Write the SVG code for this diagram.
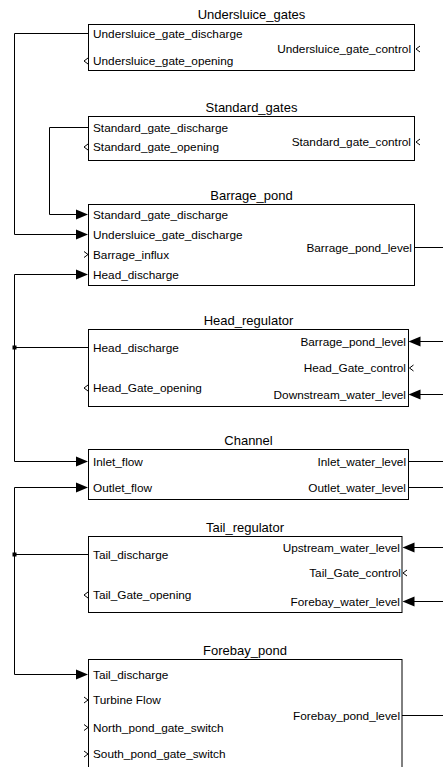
<svg xmlns="http://www.w3.org/2000/svg" width="443" height="767" viewBox="0 0 443 767">
<defs>
<style>
.box{fill:#fff;stroke:#000;stroke-width:1}
.t{font-family:"Liberation Sans",Arial,sans-serif;font-size:13px;text-anchor:middle;fill:#000}
.p{font-family:"Liberation Sans",Arial,sans-serif;font-size:11.8px;fill:#000}
.r{text-anchor:end}
.w{fill:none;stroke:#000;stroke-width:1}
.ch{fill:none;stroke:#000;stroke-width:1}
.ah{fill:#000;stroke:none}
</style>
</defs>
<rect width="443" height="767" fill="#fff"/>

<g id="connectors">
<path class="w" d="M88,33.5 H14.5 V234.5 H76"/>
<path class="w" d="M88,127.5 H49.5 V214.5 H76"/>
<path class="w" d="M76,274.5 H14.5 V461.5 H76"/>
<path class="w" d="M88,347.5 H14.5"/>
<path class="w" d="M76,487.5 H14.5 V674.5 H76"/>
<path class="w" d="M88,554.5 H14.5"/>
<rect x="12.5" y="345.5" width="4" height="4" fill="#000"/>
<rect x="12.5" y="552.5" width="4" height="4" fill="#000"/>
<path class="w" d="M415,247.5 H443"/>
<path class="w" d="M420,341.5 H443"/>
<path class="w" d="M420,394.5 H443"/>
<path class="w" d="M408,461.5 H443"/>
<path class="w" d="M408,487.5 H443"/>
<path class="w" d="M414,547.5 H443"/>
<path class="w" d="M414,601.5 H443"/>
<path class="w" d="M402,715.5 H443"/>
<path class="ah" d="M88,214.5 L76,209.5 L76,219.5 Z"/>
<path class="ah" d="M88,234.5 L76,229.5 L76,239.5 Z"/>
<path class="ah" d="M88,274.5 L76,269.5 L76,279.5 Z"/>
<path class="ah" d="M88,461.5 L76,456.5 L76,466.5 Z"/>
<path class="ah" d="M88,487.5 L76,482.5 L76,492.5 Z"/>
<path class="ah" d="M88,674.5 L76,669.5 L76,679.5 Z"/>
<path class="ah" d="M408.5,341.5 L420.5,336.5 L420.5,346.5 Z"/>
<path class="ah" d="M408.5,394.5 L420.5,389.5 L420.5,399.5 Z"/>
<path class="ah" d="M402.5,547.5 L414.5,542.5 L414.5,552.5 Z"/>
<path class="ah" d="M402.5,601.5 L414.5,596.5 L414.5,606.5 Z"/>
</g>

<g id="Undersluice_gates">
<text class="t" x="251.5" y="19">Undersluice_gates</text>
<rect class="box" x="88.5" y="24.5" width="326" height="46"/>
<text class="p" x="93" y="37.5">Undersluice_gate_discharge</text>
<text class="p" x="93" y="65">Undersluice_gate_opening</text>
<text class="p r" x="411" y="53">Undersluice_gate_control</text>
<path class="ch" d="M88,58 L84,61 L88,64"/>
<path class="ch" d="M420,46 L416,49 L420,52"/>
</g>

<g id="Standard_gates">
<text class="t" x="251.5" y="111.5">Standard_gates</text>
<rect class="box" x="88.5" y="116.5" width="326" height="44"/>
<text class="p" x="93" y="131.5">Standard_gate_discharge</text>
<text class="p" x="93" y="151">Standard_gate_opening</text>
<text class="p r" x="411" y="146">Standard_gate_control</text>
<path class="ch" d="M88,144 L84,147 L88,150"/>
<path class="ch" d="M420,139 L416,142 L420,145"/>
</g>

<g id="Barrage_pond">
<text class="t" x="251.5" y="199.5">Barrage_pond</text>
<rect class="box" x="88.5" y="204.5" width="326" height="81"/>
<text class="p" x="93" y="218.5">Standard_gate_discharge</text>
<text class="p" x="93" y="238.5">Undersluice_gate_discharge</text>
<text class="p" x="93" y="258.5">Barrage_influx</text>
<text class="p" x="93" y="278.5">Head_discharge</text>
<text class="p r" x="412" y="251.5">Barrage_pond_level</text>
<path class="ch" d="M84,251.5 L88,254.5 L84,257.5"/>
</g>

<g id="Head_regulator">
<text class="t" x="248.5" y="324.5">Head_regulator</text>
<rect class="box" x="88.5" y="329.5" width="320" height="77"/>
<text class="p" x="93" y="351.5">Head_discharge</text>
<text class="p" x="93" y="392">Head_Gate_opening</text>
<text class="p r" x="406" y="345.5">Barrage_pond_level</text>
<text class="p r" x="406" y="372">Head_Gate_control</text>
<text class="p r" x="406" y="398.5">Downstream_water_level</text>
<path class="ch" d="M88,385 L84,388 L88,391"/>
<path class="ch" d="M413.5,365 L409.5,368 L413.5,371"/>
</g>

<g id="Channel">
<text class="t" x="248.5" y="444.5">Channel</text>
<rect class="box" x="88.5" y="449.5" width="320" height="50"/>
<text class="p" x="93" y="465.5">Inlet_flow</text>
<text class="p" x="93" y="491.5">Outlet_flow</text>
<text class="p r" x="406" y="465.5">Inlet_water_level</text>
<text class="p r" x="406" y="491.5">Outlet_water_level</text>
</g>

<g id="Tail_regulator">
<text class="t" x="245" y="531.5">Tail_regulator</text>
<rect class="box" x="88.5" y="536.5" width="313.5" height="76"/>
<text class="p" x="93" y="558.5">Tail_discharge</text>
<text class="p" x="93" y="599">Tail_Gate_opening</text>
<text class="p r" x="400" y="551.5">Upstream_water_level</text>
<text class="p r" x="401" y="577">Tail_Gate_control</text>
<text class="p r" x="400" y="605.5">Forebay_water_level</text>
<path class="ch" d="M88,592 L84,595 L88,598"/>
<path class="ch" d="M407,570 L403,573 L407,576"/>
</g>

<g id="Forebay_pond">
<text class="t" x="245" y="654.5">Forebay_pond</text>
<rect class="box" x="88.5" y="659.5" width="313.5" height="120"/>
<text class="p" x="93" y="678.5">Tail_discharge</text>
<text class="p" x="93" y="704">Turbine Flow</text>
<text class="p" x="93" y="731.5">North_pond_gate_switch</text>
<text class="p" x="93" y="758">South_pond_gate_switch</text>
<text class="p r" x="400" y="719.5">Forebay_pond_level</text>
<path class="ch" d="M84,697 L88,700 L84,703"/>
<path class="ch" d="M84,724.5 L88,727.5 L84,730.5"/>
<path class="ch" d="M84,751 L88,754 L84,757"/>
</g>
</svg>
